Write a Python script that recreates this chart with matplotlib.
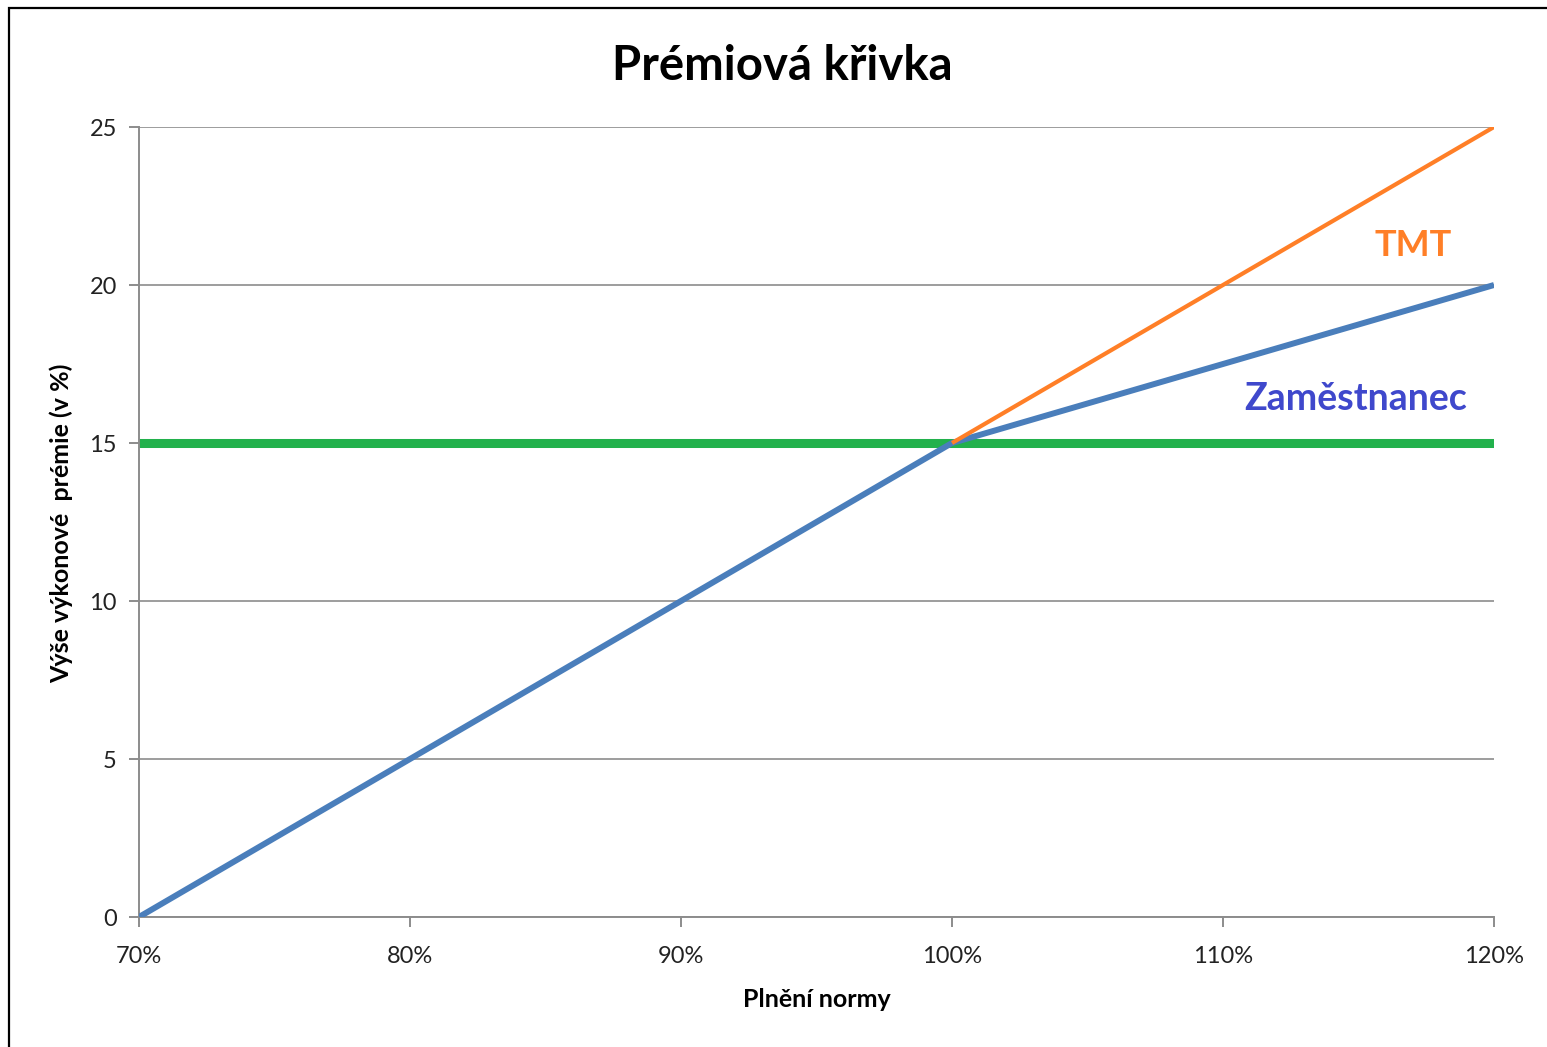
import matplotlib.pyplot as plt
from matplotlib.ticker import FuncFormatter
from matplotlib.patches import Rectangle

# data
plneni = [0.70, 1.00, 1.20]
zamestnanec = [0, 15, 20]
tmt_x = [1.00, 1.20]
tmt = [15, 25]
zaklad_x = [0.70, 1.20]
zaklad = [15, 15]

x_ticks = [0.7, 0.8, 0.9, 1.0, 1.1, 1.2]
y_ticks = [0, 5, 10, 15, 20, 25]

plt.rcParams['font.family'] = ['Lato', 'DejaVu Sans']

fig = plt.figure(figsize=(15.47, 10.47), dpi=100)
ax = fig.add_axes([139 / 1547, 1 - 917 / 1047, (1494 - 139) / 1547, (917 - 127) / 1047])

# outer frame of the chart
fig.patches.append(Rectangle((9 / 1547, -0.05), 1.1, 1 - 8 / 1047 + 0.05,
                             transform=fig.transFigure, fill=False,
                             edgecolor="black", linewidth=1.6))

ax.plot(zaklad_x, zaklad, color="#22B14C", linewidth=6.5, solid_capstyle="round", zorder=2)
ax.plot(plneni, zamestnanec, color="#4A7EBB", linewidth=4.3, solid_capstyle="butt", zorder=3)
ax.plot(tmt_x, tmt, color="#FF7F27", linewidth=3.0, solid_capstyle="butt", zorder=4)

ax.set_xlim(0.7, 1.2)
ax.set_ylim(0, 25)
ax.set_xticks(x_ticks)
ax.set_yticks(y_ticks)
ax.xaxis.set_major_formatter(FuncFormatter(lambda v, p: f"{round(v * 100)}%"))
ax.grid(axis="y", color="#8c8c8c", linewidth=1.2)
ax.set_axisbelow(True)

for s in ["top", "right"]:
    ax.spines[s].set_visible(False)
for s in ["left", "bottom"]:
    ax.spines[s].set_color("#8c8c8c")
    ax.spines[s].set_linewidth(1.4)
ax.tick_params(colors="#8c8c8c", labelcolor="#222222", labelsize=17, length=7, width=1.4)
ax.tick_params(axis="x", pad=14)
ax.tick_params(axis="y", pad=9)

ax.set_xlabel("Plnění normy", fontsize=18, fontweight="bold")
ax.set_ylabel("Výše výkonové  prémie (v %)", fontsize=18, fontweight="bold")
ax.xaxis.set_label_coords(0.5004, -0.104)
ax.yaxis.set_label_coords(-0.057, 0.498)
ax.xaxis.label.set_va("center")
ax.yaxis.label.set_va("center")

fig.text(782 / 1547, 1 - 66 / 1047, "Prémiová křivka", fontsize=34, fontweight="bold",
         ha="center", va="center")

ax.text(1.170, 21.25, "TMT", color="#FF7F27", fontsize=26, fontweight="bold",
        ha="center", va="center")
ax.text(1.149, 16.4, "Zaměstnanec", color="#3F48CC", fontsize=27, fontweight="bold",
        ha="center", va="center")

fig.savefig("out.png", dpi=100, facecolor="white")
